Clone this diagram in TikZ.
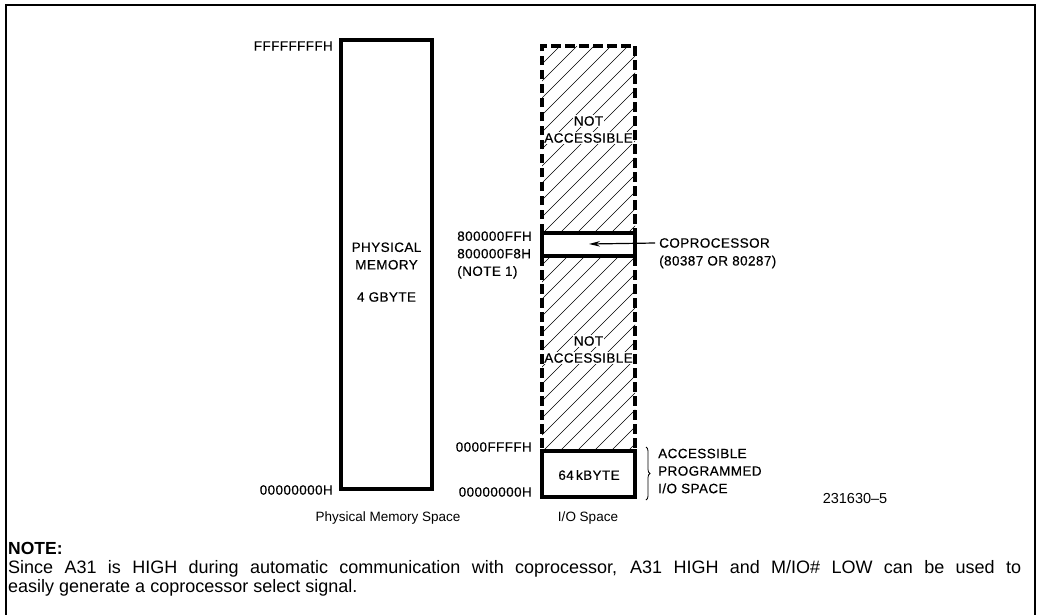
\documentclass[tikz,border=0pt]{standalone}
\usepackage{fontspec}
\setmainfont{Liberation Sans}
\newfontfamily\lblfont{Liberation Sans}[LetterSpace=3, FakeBold=0.4]
\usetikzlibrary{arrows.meta,decorations.pathreplacing}

\begin{document}
\begin{tikzpicture}[x=1pt,y=-1pt,
  solidbox/.style={draw, line width=3.2pt, inner sep=0pt, outer sep=0pt},
  dashline/.style={line width=3.2pt, dash pattern=on 9.5pt off 4.5pt},
  hatchline/.style={line width=0.55pt},
  lbl/.style={font=\lblfont\fontsize{13.5}{17.5}\selectfont, inner sep=0pt},
  mask/.style={lbl, fill=white, inner sep=1.2pt},
  caption/.style={font=\fontsize{13.5}{16}\selectfont, inner sep=0pt},
  arr/.style={line width=1.2pt, -{Stealth[length=11pt,width=5.5pt]}}]
\useasboundingbox (0,0) rectangle (1040,614);

% outer frame, open at the bottom
\draw[line width=1.4pt] (6,625) -- (6,5) -- (1035,5) -- (1035,625);

% physical memory column
\node[solidbox, minimum width=91, minimum height=449] (pm) at (386.5,264.5) {};
\node[lbl, align=center] (pmname) at (386.5,256) {PHYSICAL\\MEMORY};
\node[lbl] (pmsize) at (386.5,297) {4 GBYTE};
\node[lbl, anchor=east] (pmtop) at (333,46) {FFFFFFFFH};
\node[lbl, anchor=east] (pmbot) at (333,490) {00000000H};
\node[caption] (pmcap) at (388,518) {Physical Memory Space};

% I/O space: hatched regions that are not accessible
\begin{scope}
  \clip (542,46) rectangle (635,233);
  \foreach \k in {-220,-203,...,120}
    \draw[hatchline] (542+\k,233) -- (542+\k+187,46);
\end{scope}
\begin{scope}
  \clip (542,256) rectangle (635,451);
  \foreach \k in {-220,-203,...,120}
    \draw[hatchline] (542+\k,451) -- (542+\k+195,256);
\end{scope}
\node[mask] (na1a) at (588.5,121) {NOT};
\node[mask] (na1b) at (588.5,138) {ACCESSIBLE};
\node[mask] (na2a) at (588.5,341) {NOT};
\node[mask] (na2b) at (588.5,358) {ACCESSIBLE};

% dashed outlines of the hatched regions
\coordinate (ua) at (542,233);
\coordinate (ub) at (542,46);
\coordinate (uc) at (635,46);
\coordinate (ud) at (635,233);
\draw[dashline] (ua) -- (ub) -- (uc) -- (ud);
\coordinate (la) at (542,256);
\coordinate (lb) at (542,451);
\coordinate (lc) at (635,256);
\coordinate (ld) at (635,451);
\draw[dashline] (la) -- (lb);
\draw[dashline] (lc) -- (ld);

% coprocessor window and the 64 kbyte programmed I/O space
\node[solidbox, minimum width=93, minimum height=23] (cop) at (588.5,244.5) {};
\node[solidbox, minimum width=93, minimum height=46] (io) at (588.5,474) {};
\node[lbl] (iosize) at (589,475) {64\,kBYTE};

% address labels of the I/O column
\node[lbl, align=left, anchor=east] (copaddr) at (532,255) {800000FFH\\800000F8H\\(NOTE 1)};
\node[lbl, anchor=east] (iotop) at (532,447) {0000FFFFH};
\node[lbl, anchor=east] (iobot) at (532,492) {00000000H};
\node[caption] (iocap) at (588,518) {I/O Space};

% coprocessor callout
\node[lbl, anchor=west] (copname) at (659,243) {COPROCESSOR};
\node[lbl, anchor=west] (coptype) at (659,262) {(80387 OR 80287)};
\coordinate (coptip) at (589,244);
\draw[arr] ([xshift=-4pt]copname.west) -- (coptip);

% brace for the accessible range
\coordinate (bra) at (646,447);
\coordinate (brb) at (646,500);
\draw[line width=0.8pt, decorate, decoration={brace, amplitude=4pt}] (bra) -- (brb);
\node[lbl, align=left, anchor=west] (acc) at (658,471) {ACCESSIBLE\\PROGRAMMED\\I/O SPACE};

% figure number
\node[caption, font=\fontsize{14.5}{16}\selectfont] (fignum) at (855,498) {231630--5};

% note
\node[anchor=west, inner sep=0pt, font=\bfseries\fontsize{17.5}{19}\selectfont] (notehead) at (8,548) {NOTE:};
\node[anchor=north west, inner sep=0pt, text width=1013pt, align=justify, font=\fontsize{18}{19.5}\selectfont] (notebody) at (8,560)
  {Since A31 is HIGH during automatic communication with coprocessor, A31 HIGH and M/IO\# LOW can be used to\linebreak
   easily generate a coprocessor select signal.};
\end{tikzpicture}
\end{document}
